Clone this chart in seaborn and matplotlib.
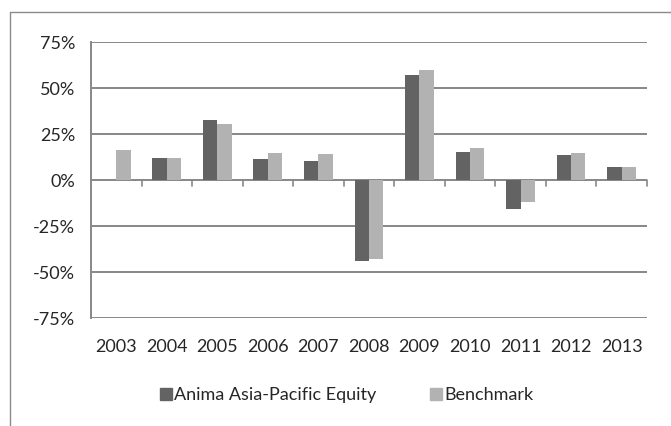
import numpy as np
import pandas as pd
import seaborn as sns
import matplotlib
matplotlib.use("Agg")
import matplotlib.pyplot as plt
from matplotlib.lines import Line2D
from matplotlib.ticker import FuncFormatter

years = ["2003", "2004", "2005", "2006", "2007", "2008", "2009", "2010", "2011", "2012", "2013"]
anima = [np.nan, 12.0, 32.7, 11.6, 10.4, -44.2, 57.0, 15.4, -15.6, 13.5, 7.3]
benchmark = [16.5, 12.0, 30.6, 14.9, 14.1, -42.7, 59.8, 17.6, -12.0, 14.6, 7.1]
series_names = ["Anima Asia-Pacific Equity", "Benchmark"]
colors = ["#636363", "#b2b2b2"]

df = pd.DataFrame({
    "year": years * 2,
    "value": anima + benchmark,
    "series": [series_names[0]] * len(years) + [series_names[1]] * len(years),
})

sns.set_style("white")
plt.rcParams["font.family"] = ["Lato", "DejaVu Sans"]
fs = 13

fig = plt.figure(figsize=(6.71, 4.26), dpi=100)
ax = fig.add_axes([0.1356, 0.2535, 0.9640 - 0.1356, 0.901 - 0.2535])

sns.barplot(data=df, x="year", y="value", hue="series", palette=colors,
            width=0.57, gap=0.0, ax=ax, legend=False, saturation=1, linewidth=0)

grid_col = "#878787"
ax.set_ylim(-75, 75)
ax.set_xlim(-0.5, len(years) - 0.5)
ax.set_yticks([-75, -50, -25, 0, 25, 50, 75])
ax.yaxis.set_major_formatter(FuncFormatter(lambda v, p: f"{v:.0f}%"))
for v in [-75, -50, -25, 0, 25, 50, 75]:
    ax.axhline(v, color=grid_col, lw=1.4, zorder=0.5)
ax.tick_params(axis="y", length=4.5, width=1.0, color=grid_col, labelsize=fs, pad=7)
ax.tick_params(axis="x", length=0, labelsize=fs, pad=15)
for s in ["top", "right", "bottom"]:
    ax.spines[s].set_visible(False)
ax.spines["left"].set_color(grid_col)
ax.spines["left"].set_linewidth(1.4)
ax.set_xlabel("")
ax.set_ylabel("")

# category separator ticks hanging below the zero line
for k in range(1, len(years) + 1):
    ax.plot([k - 0.5, k - 0.5], [0, -3.2], color=grid_col, lw=1.2, zorder=0.6, clip_on=False)

handles = [Line2D([0], [0], marker="s", ls="", markersize=8.5, markerfacecolor=c, markeredgecolor=c)
           for c in colors]
fig.legend(handles, series_names, loc="center", bbox_to_anchor=(0.516, 0.073), ncol=2,
           frameon=False, fontsize=fs, handletextpad=0.05, columnspacing=2.9, handlelength=0.8)

# chart area border (top and left visible)
fig.add_artist(Line2D([0.0149, 1.0], [0.972, 0.972], color="#8a8a8a", lw=1.0, transform=fig.transFigure))
fig.add_artist(Line2D([0.0149, 0.0149], [0.0, 0.972], color="#8a8a8a", lw=1.0, transform=fig.transFigure))

fig.savefig("out.png", dpi=100)
